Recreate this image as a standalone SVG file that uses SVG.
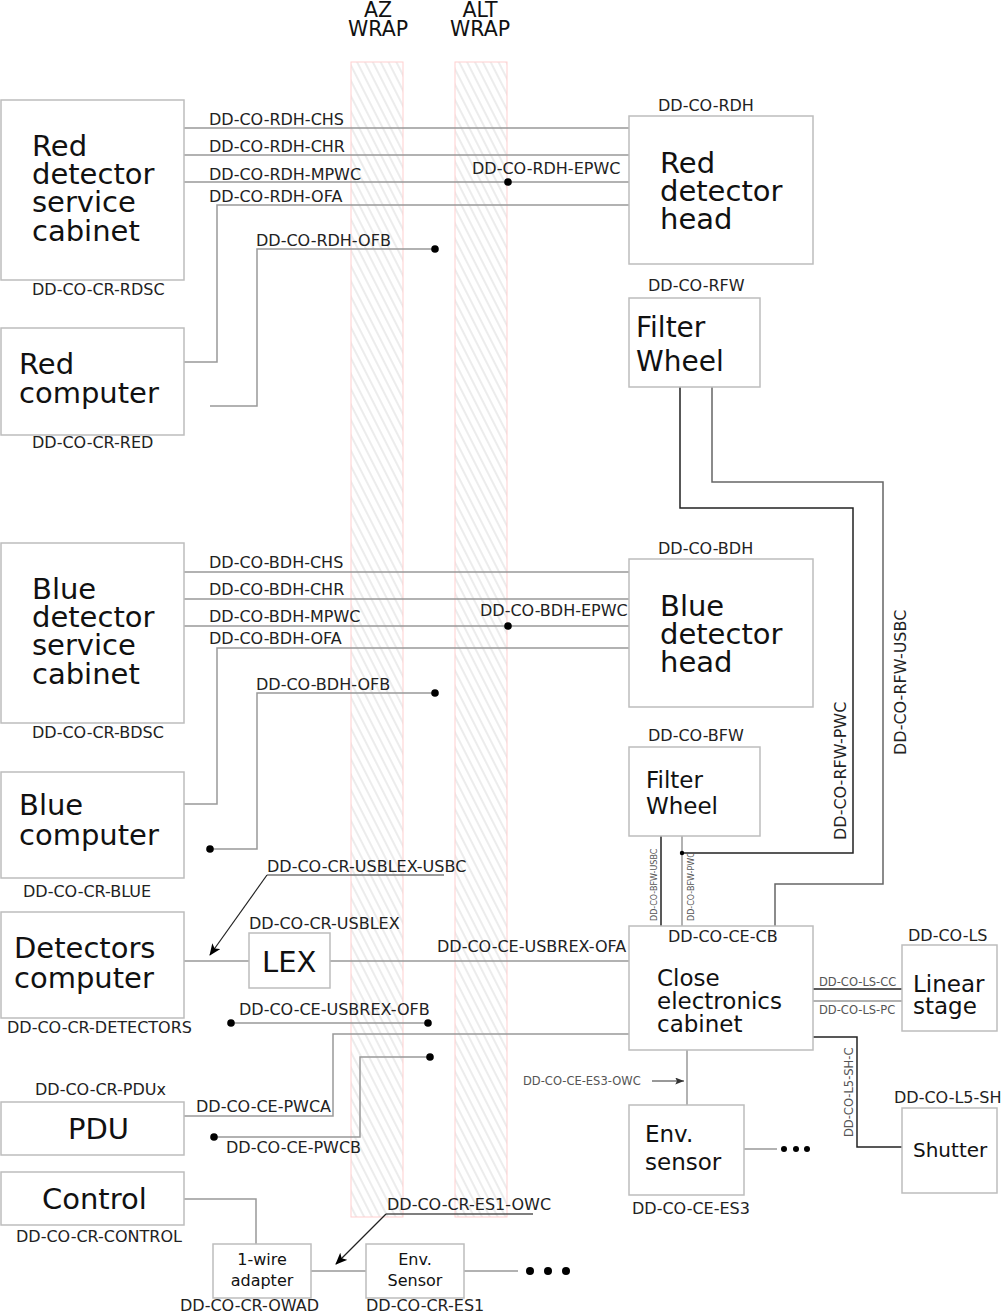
<svg xmlns="http://www.w3.org/2000/svg" width="1002" height="1313" viewBox="0 0 1002 1313">
<style>
text{font-family:"DejaVu Sans","Verdana",sans-serif;fill:#111}
.big{font-size:29px}
.mid{font-size:23px}
.s16{font-size:16px}
.lbl{font-size:16px;fill:#222}
.sm{font-size:11.5px;fill:#555}
.xs{font-size:8px;fill:#555}
.wrap{font-size:20.5px;text-anchor:middle}
.box{fill:#fff;stroke:#bdbdbd;stroke-width:1.5}
.c{fill:none;stroke:#999;stroke-width:1.5}
.k{fill:none;stroke:#222;stroke-width:1.5}
.dot{fill:#000}
.hz{fill:url(#hatch);stroke:#ffcfcf;stroke-width:1}
</style>
<defs>
<pattern id="hatch" patternUnits="userSpaceOnUse" width="7" height="20" patternTransform="rotate(-27)">
<line x1="3" y1="-2" x2="3" y2="22" stroke="#cfcfcf" stroke-width="0.8"/>
</pattern>
<marker id="arr" viewBox="0 0 12 10" refX="11" refY="5" markerWidth="12" markerHeight="10" markerUnits="userSpaceOnUse" orient="auto">
<path d="M0,0 L12,5 L0,10 L3,5 Z" fill="#000"/>
</marker>
<marker id="arrs" viewBox="0 0 10 8" refX="10" refY="4" markerWidth="9" markerHeight="7" markerUnits="userSpaceOnUse" orient="auto">
<path d="M0,0 L10,4 L0,8 L2,4 Z" fill="#333"/>
</marker>
</defs>
<rect width="1002" height="1313" fill="#fff"/>

<g id="wraps">
<rect class="hz" x="351" y="62" width="52" height="1155"/>
<rect class="hz" x="455" y="62" width="52" height="1155"/>
<text class="wrap" x="378" y="17">AZ</text>
<text class="wrap" x="378" y="36">WRAP</text>
<text class="wrap" x="480" y="17">ALT</text>
<text class="wrap" x="480" y="36">WRAP</text>
</g>

<g id="connectors">
<!-- red -->
<line class="c" x1="184" y1="128" x2="629" y2="128"/>
<line class="c" x1="184" y1="155" x2="629" y2="155"/>
<line class="c" x1="184" y1="182" x2="629" y2="182"/>
<circle class="dot" cx="508" cy="182" r="3.8"/>
<path class="c" d="M629,205 H217 V362 H184"/>
<path class="c" d="M435,249 H257 V406 H210"/>
<circle class="dot" cx="435" cy="249" r="3.8"/>
<text class="lbl" x="209" y="125">DD-CO-RDH-CHS</text>
<text class="lbl" x="209" y="152">DD-CO-RDH-CHR</text>
<text class="lbl" x="209" y="180">DD-CO-RDH-MPWC</text>
<text class="lbl" x="209" y="202">DD-CO-RDH-OFA</text>
<text class="lbl" x="256" y="246">DD-CO-RDH-OFB</text>
<text class="lbl" x="472" y="174">DD-CO-RDH-EPWC</text>
<!-- blue -->
<line class="c" x1="184" y1="572" x2="629" y2="572"/>
<line class="c" x1="184" y1="599" x2="629" y2="599"/>
<line class="c" x1="184" y1="626" x2="629" y2="626"/>
<circle class="dot" cx="508" cy="626" r="3.8"/>
<path class="c" d="M629,648 H217 V804 H184"/>
<path class="c" d="M435,693 H257 V849 H210"/>
<circle class="dot" cx="435" cy="693" r="3.8"/>
<circle class="dot" cx="210" cy="849" r="3.8"/>
<text class="lbl" x="209" y="568">DD-CO-BDH-CHS</text>
<text class="lbl" x="209" y="595">DD-CO-BDH-CHR</text>
<text class="lbl" x="209" y="622">DD-CO-BDH-MPWC</text>
<text class="lbl" x="209" y="644">DD-CO-BDH-OFA</text>
<text class="lbl" x="256" y="690">DD-CO-BDH-OFB</text>
<text class="lbl" x="480" y="616">DD-CO-BDH-EPWC</text>
<!-- filter wheel cables -->
<path class="k" d="M680,387 V508 H853 V853 H682"/>
<path class="c" style="stroke:#666" d="M712,387 V482 H883 V884 H775 V926"/>
<text class="lbl" transform="translate(846,840) rotate(-90)">DD-CO-RFW-PWC</text>
<text class="lbl" transform="translate(906,755) rotate(-90)">DD-CO-RFW-USBC</text>
<line class="k" x1="661" y1="836" x2="661" y2="926"/>
<line class="c" x1="682" y1="836" x2="682" y2="926"/>
<circle class="dot" cx="682" cy="853" r="2.2"/>
<text class="xs" transform="translate(657,921) rotate(-90)">DD-CO-BFW-USBC</text>
<text class="xs" transform="translate(694,921) rotate(-90)">DD-CO-BFW-PWC</text>
<!-- detectors / LEX -->
<line class="c" x1="184" y1="961" x2="249" y2="961"/>
<line class="c" x1="330" y1="961" x2="629" y2="961"/>
<text class="lbl" x="437" y="952">DD-CO-CE-USBREX-OFA</text>
<line class="c" style="stroke:#777" x1="267" y1="875" x2="444" y2="875"/>
<line stroke="#222" stroke-width="1.2" x1="267" y1="875" x2="210" y2="955" marker-end="url(#arr)"/>
<text class="lbl" x="267" y="872">DD-CO-CR-USBLEX-USBC</text>
<line class="c" x1="231" y1="1023" x2="428" y2="1023"/>
<circle class="dot" cx="231" cy="1023" r="3.8"/>
<circle class="dot" cx="428" cy="1023" r="3.8"/>
<text class="lbl" x="239" y="1015">DD-CO-CE-USBREX-OFB</text>
<!-- PDU -->
<path class="c" d="M184,1116 H333 V1034 H629"/>
<text class="lbl" x="196" y="1112">DD-CO-CE-PWCA</text>
<path class="c" d="M430,1057 H360 V1137 H214"/>
<circle class="dot" cx="430" cy="1057" r="3.8"/>
<circle class="dot" cx="214" cy="1137" r="3.8"/>
<text class="lbl" x="226" y="1153">DD-CO-CE-PWCB</text>
<!-- control / 1-wire -->
<path class="c" d="M184,1199 H256 V1244"/>
<line class="c" x1="311" y1="1271" x2="366" y2="1271"/>
<line class="c" x1="464" y1="1271" x2="518" y2="1271"/>
<circle class="dot" cx="530" cy="1271" r="4"/>
<circle class="dot" cx="548" cy="1271" r="4"/>
<circle class="dot" cx="566" cy="1271" r="4"/>
<line class="c" style="stroke:#555" x1="386" y1="1214" x2="533" y2="1214"/>
<line stroke="#222" stroke-width="1.2" x1="386" y1="1214" x2="336" y2="1264" marker-end="url(#arr)"/>
<text class="lbl" x="387" y="1210">DD-CO-CR-ES1-OWC</text>
<!-- close electronics -->
<line class="k" x1="813" y1="989" x2="902" y2="989"/>
<line class="c" x1="813" y1="1001" x2="902" y2="1001"/>
<text class="sm" x="819" y="986">DD-CO-LS-CC</text>
<text class="sm" x="819" y="1014">DD-CO-LS-PC</text>
<path class="k" d="M813,1037 H857 V1147 H902"/>
<text class="sm" transform="translate(853,1137) rotate(-90)">DD-CO-L5-SH-C</text>
<line class="c" x1="687" y1="1050" x2="687" y2="1105"/>
<line stroke="#333" stroke-width="1" x1="652" y1="1081" x2="684" y2="1081" marker-end="url(#arrs)"/>
<text class="sm" x="523" y="1085">DD-CO-CE-ES3-OWC</text>
<line class="c" x1="744" y1="1149" x2="777" y2="1149"/>
<circle class="dot" cx="784" cy="1149" r="3"/>
<circle class="dot" cx="796" cy="1149" r="3"/>
<circle class="dot" cx="807" cy="1149" r="3"/>
</g>

<g id="rdsc">
<rect class="box" x="1" y="100" width="183" height="180"/>
<text class="big" x="32" y="156">Red</text>
<text class="big" x="32" y="184">detector</text>
<text class="big" x="32" y="212">service</text>
<text class="big" x="32" y="241">cabinet</text>
<text class="lbl" x="32" y="295">DD-CO-CR-RDSC</text>
</g>
<g id="red-computer">
<rect class="box" x="1" y="328" width="183" height="107"/>
<text class="big" x="19" y="374">Red</text>
<text class="big" x="19" y="403">computer</text>
<text class="lbl" x="32" y="448">DD-CO-CR-RED</text>
</g>
<g id="rdh">
<rect class="box" x="629" y="116" width="184" height="148"/>
<text class="big" x="660" y="173">Red</text>
<text class="big" x="660" y="201">detector</text>
<text class="big" x="660" y="229">head</text>
<text class="lbl" x="658" y="111">DD-CO-RDH</text>
</g>
<g id="rfw">
<rect class="box" x="629" y="298" width="131" height="89"/>
<text class="big" x="636" y="337" style="font-size:28px">Filter</text>
<text class="big" x="636" y="371" style="font-size:28px">Wheel</text>
<text class="lbl" x="648" y="291">DD-CO-RFW</text>
</g>
<g id="bdsc">
<rect class="box" x="1" y="543" width="183" height="180"/>
<text class="big" x="32" y="599">Blue</text>
<text class="big" x="32" y="627">detector</text>
<text class="big" x="32" y="655">service</text>
<text class="big" x="32" y="684">cabinet</text>
<text class="lbl" x="32" y="738">DD-CO-CR-BDSC</text>
</g>
<g id="blue-computer">
<rect class="box" x="1" y="772" width="183" height="106"/>
<text class="big" x="19" y="815">Blue</text>
<text class="big" x="19" y="845">computer</text>
<text class="lbl" x="23" y="897">DD-CO-CR-BLUE</text>
</g>
<g id="bdh">
<rect class="box" x="629" y="559" width="184" height="148"/>
<text class="big" x="660" y="616">Blue</text>
<text class="big" x="660" y="644">detector</text>
<text class="big" x="660" y="672">head</text>
<text class="lbl" x="658" y="554">DD-CO-BDH</text>
</g>
<g id="bfw">
<rect class="box" x="629" y="747" width="131" height="89"/>
<text class="mid" x="646" y="788">Filter</text>
<text class="mid" x="646" y="814">Wheel</text>
<text class="lbl" x="648" y="741">DD-CO-BFW</text>
</g>
<g id="detectors-computer">
<rect class="box" x="1" y="912" width="183" height="106"/>
<text class="big" x="14" y="958">Detectors</text>
<text class="big" x="14" y="988">computer</text>
<text class="lbl" x="7" y="1033">DD-CO-CR-DETECTORS</text>
</g>
<g id="lex">
<rect class="box" x="249" y="933" width="81" height="55"/>
<text class="big" x="262" y="972">LEX</text>
<text class="lbl" x="249" y="929">DD-CO-CR-USBLEX</text>
</g>
<g id="ce">
<rect class="box" x="629" y="926" width="184" height="124"/>
<text class="lbl" x="668" y="942">DD-CO-CE-CB</text>
<text class="mid" x="657" y="986">Close</text>
<text class="mid" x="657" y="1009">electronics</text>
<text class="mid" x="657" y="1032">cabinet</text>
</g>
<g id="linear-stage">
<rect class="box" x="902" y="945" width="95" height="86"/>
<text class="mid" x="913" y="992">Linear</text>
<text class="mid" x="913" y="1014">stage</text>
<text class="lbl" x="908" y="941">DD-CO-LS</text>
</g>
<g id="shutter">
<rect class="box" x="902" y="1108" width="95" height="85"/>
<text class="s16" x="913" y="1157" style="font-size:20px">Shutter</text>
<text class="lbl" x="894" y="1103">DD-CO-L5-SH</text>
</g>
<g id="env-sensor-es3">
<rect class="box" x="629" y="1105" width="115" height="90"/>
<text class="mid" x="645" y="1142">Env.</text>
<text class="mid" x="645" y="1170">sensor</text>
<text class="lbl" x="632" y="1214">DD-CO-CE-ES3</text>
</g>
<g id="pdu">
<rect class="box" x="1" y="1102" width="183" height="53"/>
<text class="big" x="68" y="1139">PDU</text>
<text class="lbl" x="35" y="1095">DD-CO-CR-PDUx</text>
</g>
<g id="control">
<rect class="box" x="1" y="1172" width="183" height="53"/>
<text class="big" x="42" y="1209">Control</text>
<text class="lbl" x="16" y="1242">DD-CO-CR-CONTROL</text>
</g>
<g id="owad">
<rect class="box" x="213" y="1244" width="98" height="54"/>
<text class="s16" x="262" y="1265" text-anchor="middle">1-wire</text>
<text class="s16" x="262" y="1286" text-anchor="middle">adapter</text>
<text class="lbl" x="180" y="1311">DD-CO-CR-OWAD</text>
</g>
<g id="es1">
<rect class="box" x="366" y="1244" width="98" height="54"/>
<text class="s16" x="415" y="1265" text-anchor="middle">Env.</text>
<text class="s16" x="415" y="1286" text-anchor="middle">Sensor</text>
<text class="lbl" x="366" y="1311">DD-CO-CR-ES1</text>
</g>
</svg>
